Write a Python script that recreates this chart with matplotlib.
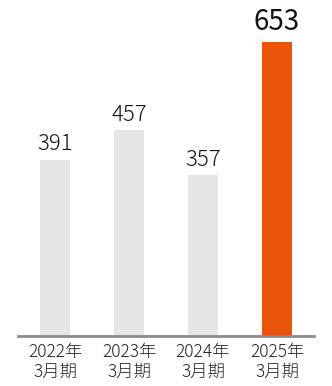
import matplotlib.pyplot as plt

plt.rcParams['font.family'] = ['Noto Sans CJK JP', 'DejaVu Sans']

# データ
periods = ['2022年\n3月期', '2023年\n3月期', '2024年\n3月期', '2025年\n3月期']
values = [391, 457, 357, 653]
colors = ['#e6e5e3', '#e6e5e3', '#e6e5e3', '#e8540a']

fig = plt.figure(figsize=(3.32, 3.86), dpi=100)
ax = fig.add_axes([18 / 332, 50 / 386, 296 / 332, 294 / 386])

x = range(len(values))
ax.bar(x, values, width=0.405, color=colors, zorder=2)

for i, v in enumerate(values):
    last = i == len(values) - 1
    ax.text(i, v + 10, str(v), ha='center', va='bottom',
            fontsize=20 if last else 16, fontweight='normal' if last else 'light',
            color='#111111')

ax.set_xlim(-0.5, 3.5)
ax.set_ylim(0, 653)
ax.set_xticks(list(x))
ax.set_xticklabels(periods, fontsize=12.5, color='#222222', linespacing=1.1,
                   fontweight='light')
ax.tick_params(axis='x', length=0, pad=5)
ax.set_yticks([])
for s in ['top', 'right', 'left']:
    ax.spines[s].set_visible(False)
ax.spines['bottom'].set_color('#8a8a8a')
ax.spines['bottom'].set_linewidth(2)
ax.spines['bottom'].set_zorder(3)

fig.savefig('out.png', dpi=100)
